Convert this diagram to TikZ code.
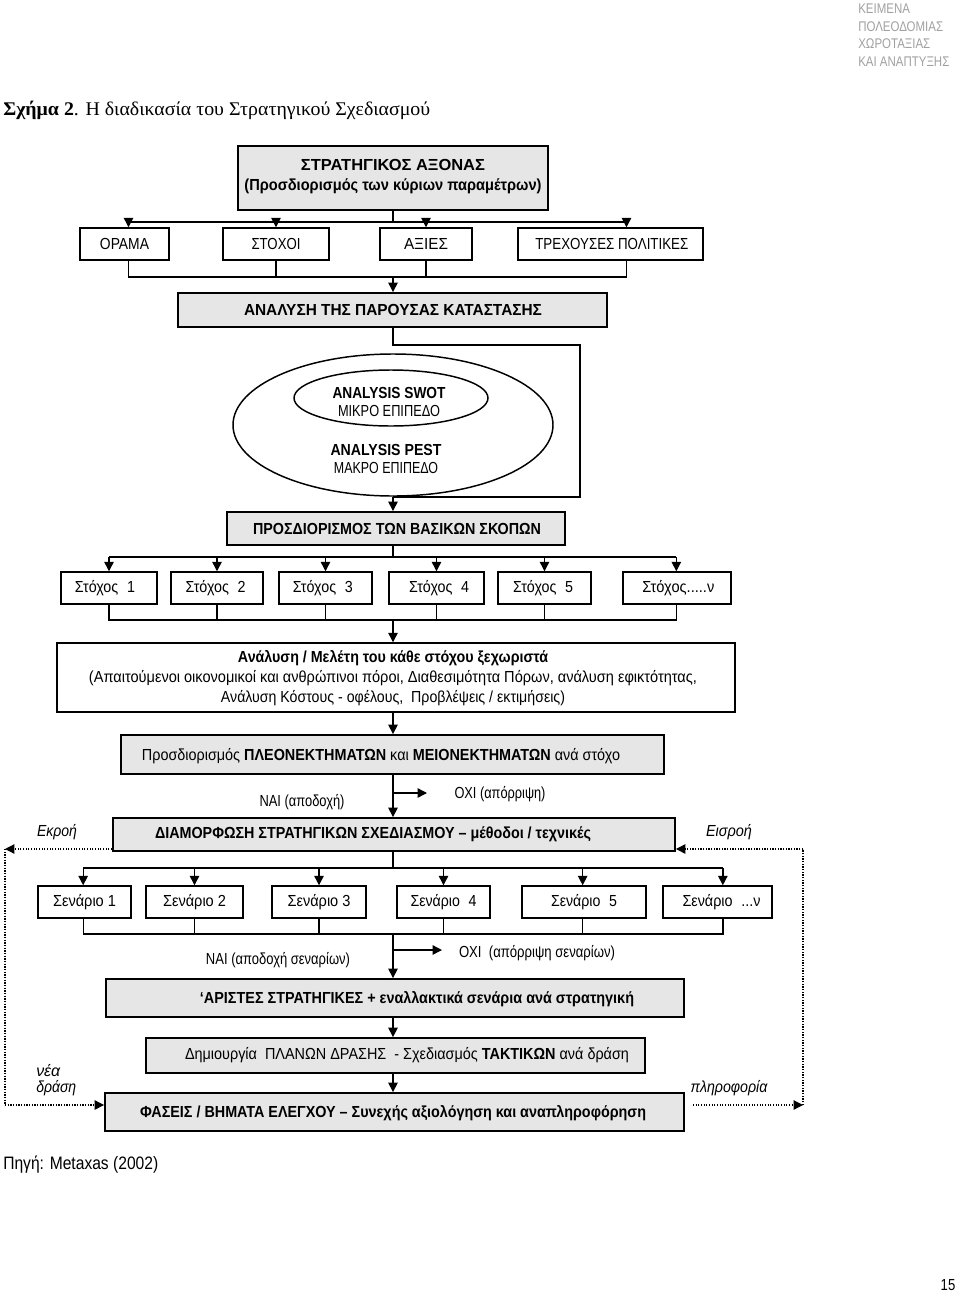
\documentclass[tikz,border=0pt]{standalone}
\usepackage{fontspec}
\usepackage{graphicx}
\setmainfont{Liberation Sans}[FakeStretch=0.82]
\newfontfamily\seriffont{Liberation Serif}
\usetikzlibrary{arrows.meta,fit,shapes.geometric}
\definecolor{boxgray}{HTML}{E6E6E6}
\definecolor{hdrgray}{HTML}{A0A0A0}
\newdimen\px \px=0.75pt
\newcommand{\W}[2]{\resizebox{#1\px}{\height}{#2}}
\newcommand{\fs}{\fontsize{12}{15}\selectfont}
\tikzset{
  bx/.style={draw, line width=1.1pt, inner sep=0pt},
  gbx/.style={bx, fill=boxgray, line width=1.4pt},
  con/.style={line width=1pt},
  arr/.style={con, -{Triangle[length=7pt,width=7pt]}},
  dotl/.style={line width=0.9pt, dash pattern=on 0.9pt off 1.1pt},
  darr/.style={dotl, -{Triangle[length=7pt,width=7pt]}},
  tx/.style={font=\fs, inner sep=0pt, align=center},
  itx/.style={font=\fs\itshape, inner sep=0pt},
}
\begin{document}
\begin{tikzpicture}[x=0.75pt, y=-0.75pt]
\useasboundingbox (0,0) rectangle (960,1295);

% header
\node[anchor=north west, align=left, text=hdrgray, inner sep=0pt,
      font=\fontsize{10.5}{13.1}\selectfont] (hdr) at (858,4)
      {ΚΕΙΜΕΝΑ\\ΠΟΛΕΟΔΟΜΙΑΣ\\ΧΩΡΟΤΑΞΙΑΣ\\ΚΑΙ ΑΝΑΠΤΥΞΗΣ};
\node[anchor=west, inner sep=0pt, font=\seriffont\fontsize{14.5}{17}\selectfont] (title) at (3,110)
      {\W{427}{\textbf{Σχήμα 2}. Η διαδικασία του Στρατηγικού Σχεδιασμού}};

\coordinate (col) at (393,0);

% strategic axis
\node[gbx, fit={(238,146)(548,210)}] (ax) {};
\node[tx] (axT) at (393,177) {\W{184}{\textbf{ΣΤΡΑΤΗΓΙΚΟΣ ΑΞΟΝΑΣ}}\\ \W{297}{\textbf{(Προσδιορισμός των κύριων παραμέτρων)}}};

\node[bx, fit={(80,228)(169,260)}] (orama) {};
\node[bx, fit={(223,228)(329,260)}] (stoxoi) {};
\node[bx, fit={(380,228)(472,260)}] (axies) {};
\node[bx, fit={(518,228)(703,260)}] (trex) {};
\node[tx] (oramaT) at (orama.center) {\W{49}{ΟΡΑΜΑ}};
\node[tx] (stoxoiT) at (stoxoi.center) {\W{49}{ΣΤΟΧΟΙ}};
\node[tx] (axiesT) at (axies.center) {\W{44}{ΑΞΙΕΣ}};
\node[tx] (trexT) at ([xshift=1pt]trex.center) {\W{153}{ΤΡΕΧΟΥΣΕΣ ΠΟΛΙΤΙΚΕΣ}};

\coordinate (j1) at (393,222);
\draw[con] (col |- ax.south) -- (j1);
\draw[con] ([xshift=3pt]orama.north |- j1) -- ([xshift=12pt]trex.north |- j1);
\draw[arr] ([xshift=3pt]orama.north |- j1) -- ([xshift=3pt]orama.north);
\draw[arr] (stoxoi.north |- j1) -- (stoxoi.north);
\draw[arr] (axies.north |- j1) -- (axies.north);
\draw[arr] ([xshift=12pt]trex.north |- j1) -- ([xshift=12pt]trex.north);

\node[gbx, fit={(178,293)(607,327)}] (anal) {};
\node[tx] (analT) at (393,310) {\W{298}{\textbf{ΑΝΑΛΥΣΗ ΤΗΣ ΠΑΡΟΥΣΑΣ ΚΑΤΑΣΤΑΣΗΣ}}};
\coordinate (j2) at (393,277);
\draw[con] ([xshift=3pt]orama.south) -- ([xshift=3pt]orama.south |- j2) -- ([xshift=12pt]trex.south |- j2) -- ([xshift=12pt]trex.south);
\draw[con] (stoxoi.south) -- (stoxoi.south |- j2);
\draw[con] (axies.south) -- (axies.south |- j2);
\draw[arr] (j2) -- (j2 |- anal.north);

% ellipses
\node[draw, ellipse, line width=1.1pt, minimum width=320*0.75pt, minimum height=142*0.75pt, inner sep=0pt] (outer) at (393,425) {};
\node[draw, ellipse, line width=1.1pt, minimum width=194*0.75pt, minimum height=56*0.75pt, inner sep=0pt] (inner) at (391,398) {};
\node[tx] (swot) at (389,402) {\W{113}{\textbf{ANALYSIS SWOT}}\\[-1.5pt]\W{102}{ΜΙΚΡΟ ΕΠΙΠΕΔΟ}};
\node[tx] (pest) at (386,459) {\W{111}{\textbf{ANALYSIS PEST}}\\[-1.5pt]\W{104}{ΜΑΚΡΟ ΕΠΙΠΕΔΟ}};

\node[gbx, fit={(227,512)(565,545)}] (prosd) {};
\node[tx] (prosdT) at (397,529) {\W{288}{\textbf{ΠΡΟΣΔΙΟΡΙΣΜΟΣ ΤΩΝ ΒΑΣΙΚΩΝ ΣΚΟΠΩΝ}}};

\coordinate (l1) at (580,345);
\coordinate (l2) at (580,497);
\draw[con] (col |- anal.south) -- (col |- l1) -- (l1) -- (l2) -- (col |- l2);
\draw[arr] (col |- l2) -- (col |- prosd.north);

% goals
\node[bx, fit={(61,572)(157,604)}] (g1) {};
\node[bx, fit={(171,572)(263,604)}] (g2) {};
\node[bx, fit={(279,572)(372,604)}] (g3) {};
\node[bx, fit={(389,572)(484,604)}] (g4) {};
\node[bx, fit={(498,572)(591,604)}] (g5) {};
\node[bx, fit={(623,572)(731,604)}] (g6) {};
\node[tx] (g1T) at ([xshift=-3pt]g1.center) {\W{60}{Στόχος\enspace 1}};
\node[tx] (g2T) at ([xshift=-1pt]g2.center) {\W{60}{Στόχος\enspace 2}};
\node[tx] (g3T) at ([xshift=-2pt]g3.center) {\W{60}{Στόχος\enspace 3}};
\node[tx] (g4T) at ([xshift=2pt]g4.center) {\W{60}{Στόχος\enspace 4}};
\node[tx] (g5T) at ([xshift=-1pt]g5.center) {\W{60}{Στόχος\enspace 5}};
\node[tx] (g6T) at ([xshift=1pt]g6.center) {\W{72}{Στόχος.....ν}};

\coordinate (j3) at (393,557);
\coordinate (j4) at (393,620);
\draw[con] (col |- prosd.south) -- (j3);
\draw[con] (g1.north |- j3) -- ([xshift=-0.5pt]g6.north |- j3);
\foreach \g in {g1,g2,g3,g4,g5} { \draw[arr] (\g.north |- j3) -- (\g.north); }
\draw[arr] ([xshift=-0.5pt]g6.north |- j3) -- ([xshift=-0.5pt]g6.north);
\draw[con] (g1.south) -- (g1.south |- j4) -- ([xshift=-0.5pt]g6.south |- j4) -- ([xshift=-0.5pt]g6.south);
\foreach \g in {g2,g3,g4,g5} { \draw[con] (\g.south) -- (\g.south |- j4); }

\node[bx, fit={(57,643)(735,712)}] (melet) {};
\node[tx] (meletT) at (393,678)
  {\W{310}{\textbf{Ανάλυση / Μελέτη του κάθε στόχου ξεχωριστά}}\\
   \W{608}{(Απαιτούμενοι οικονομικοί και ανθρώπινοι πόροι, Διαθεσιμότητα Πόρων, ανάλυση εφικτότητας,}\\
   \W{344}{Ανάλυση Κόστους - οφέλους,\ \ Προβλέψεις / εκτιμήσεις)}};
\draw[arr] (j4) -- (j4 |- melet.north);

\node[gbx, fit={(121,735)(664,774)}] (pleon) {};
\node[tx] (pleonT) at (381,756) {\W{478}{Προσδιορισμός \textbf{ΠΛΕΟΝΕΚΤΗΜΑΤΩΝ} και \textbf{ΜΕΙΟΝΕΚΤΗΜΑΤΩΝ} ανά στόχο}};
\draw[arr] (col |- melet.south) -- (col |- pleon.north);

\node[gbx, fit={(113,818)(675,851)}] (diam) {};
\node[tx] (diamT) at (373,834) {\W{436}{\textbf{ΔΙΑΜΟΡΦΩΣΗ ΣΤΡΑΤΗΓΙΚΩΝ ΣΧΕΔΙΑΣΜΟΥ – μέθοδοι / τεχνικές}}};
\draw[arr] (col |- pleon.south) -- (col |- diam.north);
\coordinate (no1) at (393,793);
\coordinate (no1e) at (427,793);
\draw[arr] (no1) -- (no1e);
\node[tx] (oxi1) at (500,794) {\W{91}{ΟΧΙ (απόρριψη)}};
\node[tx] (nai1) at (302,802) {\W{85}{ΝΑΙ (αποδοχή)}};

\node[itx] (ekroi) at (57,832) {\W{40}{Εκροή}};
\node[itx] (eisroi) at (729,832) {\W{46}{Εισροή}};

% scenarios
\node[bx, fit={(38,886)(131,918)}] (s1) {};
\node[bx, fit={(146,886)(243,918)}] (s2) {};
\node[bx, fit={(272,886)(366,918)}] (s3) {};
\node[bx, fit={(397,886)(490,918)}] (s4) {};
\node[bx, fit={(522,886)(646,918)}] (s5) {};
\node[bx, fit={(663,886)(772,918)}] (s6) {};
\node[tx] (s1T) at (s1.center) {\W{63}{Σενάριο 1}};
\node[tx] (s2T) at (s2.center) {\W{63}{Σενάριο 2}};
\node[tx] (s3T) at (s3.center) {\W{63}{Σενάριο 3}};
\node[tx] (s4T) at (s4.center) {\W{66}{Σενάριο\enspace 4}};
\node[tx] (s5T) at (s5.center) {\W{66}{Σενάριο\enspace 5}};
\node[tx] (s6T) at ([xshift=3pt]s6.center) {\W{78}{Σενάριο\enspace ...ν}};

\coordinate (j5) at (393,868);
\coordinate (j6) at (393,934);
\draw[con] (col |- diam.south) -- (j5);
\draw[con] ([xshift=-1pt]s1.north |- j5) -- ([xshift=4pt]s6.north |- j5);
\draw[arr] ([xshift=-1pt]s1.north |- j5) -- ([xshift=-1pt]s1.north);
\foreach \s in {s2,s3,s4} { \draw[arr] (\s.north |- j5) -- (\s.north); }
\draw[arr] ([xshift=-1pt]s5.north |- j5) -- ([xshift=-1pt]s5.north);
\draw[arr] ([xshift=4pt]s6.north |- j5) -- ([xshift=4pt]s6.north);
\draw[con] ([xshift=-1pt]s1.south) -- ([xshift=-1pt]s1.south |- j6) -- ([xshift=4pt]s6.south |- j6) -- ([xshift=4pt]s6.south);
\foreach \s in {s2,s3,s4} { \draw[con] (\s.south) -- (\s.south |- j6); }
\draw[con] ([xshift=-1pt]s5.south) -- ([xshift=-1pt]s5.south |- j6);

\node[gbx, fit={(106,979)(684,1017)}] (arist) {};
\node[tx] (aristT) at (417,999) {\W{434}{\textbf{‘ΑΡΙΣΤΕΣ ΣΤΡΑΤΗΓΙΚΕΣ + εναλλακτικά σενάρια ανά στρατηγική}}};
\draw[arr] (j6) -- (j6 |- arist.north);
\coordinate (no2) at (393,950);
\coordinate (no2e) at (442,950);
\draw[arr] (no2) -- (no2e);
\node[tx] (oxi2) at (537,953) {\W{156}{ΟΧΙ\ \ (απόρριψη σεναρίων)}};
\node[tx] (nai2) at (278,960) {\W{144}{ΝΑΙ (αποδοχή σεναρίων)}};

\node[gbx, fit={(146,1038)(645,1073)}] (plan) {};
\node[tx] (planT) at (407,1055) {\W{444}{Δημιουργία\ \ ΠΛΑΝΩΝ ΔΡΑΣΗΣ\ \ - Σχεδιασμός \textbf{ΤΑΚΤΙΚΩΝ} ανά δράση}};
\draw[arr] (col |- arist.south) -- (col |- plan.north);

\node[gbx, fit={(105,1093)(684,1131)}] (fas) {};
\node[tx] (fasT) at (393,1113) {\W{506}{\textbf{ΦΑΣΕΙΣ / ΒΗΜΑΤΑ ΕΛΕΓΧΟΥ – Συνεχής αξιολόγηση και αναπληροφόρηση}}};
\draw[arr] (col |- plan.south) -- (col |- fas.north);

% feedback loops (dotted)
\coordinate (dl1) at (5,849);
\coordinate (dl2) at (5,1105);
\coordinate (dr1) at (803,849);
\coordinate (dr2) at (803,1105);
\draw[darr] (diam.west |- dl1) -- (dl1);
\draw[dotl] (dl1) -- (dl2);
\draw[darr] (dl2) -- (fas.west |- dl2);
\draw[darr] ([xshift=6pt]fas.east |- dr2) -- (dr2);
\draw[dotl] (dr2) -- (dr1);
\draw[darr] (dr1) -- (diam.east |- dr1);

\node[itx, align=left, anchor=west, font=\fs\itshape\linespread{0.8}\selectfont] (nea) at (36,1080) {\W{24}{νέα}\\\W{40}{δράση}};
\node[itx] (plir) at (729,1088) {\W{77}{πληροφορία}};

\node[anchor=west, inner sep=0pt, font=\fontsize{13.5}{16}\selectfont] (src) at (3,1165) {\W{155}{Πηγή: Metaxas (2002)}};
\node[inner sep=0pt, font=\fontsize{12}{14}\selectfont] (pg) at (948,1285) {15};
\end{tikzpicture}
\end{document}
